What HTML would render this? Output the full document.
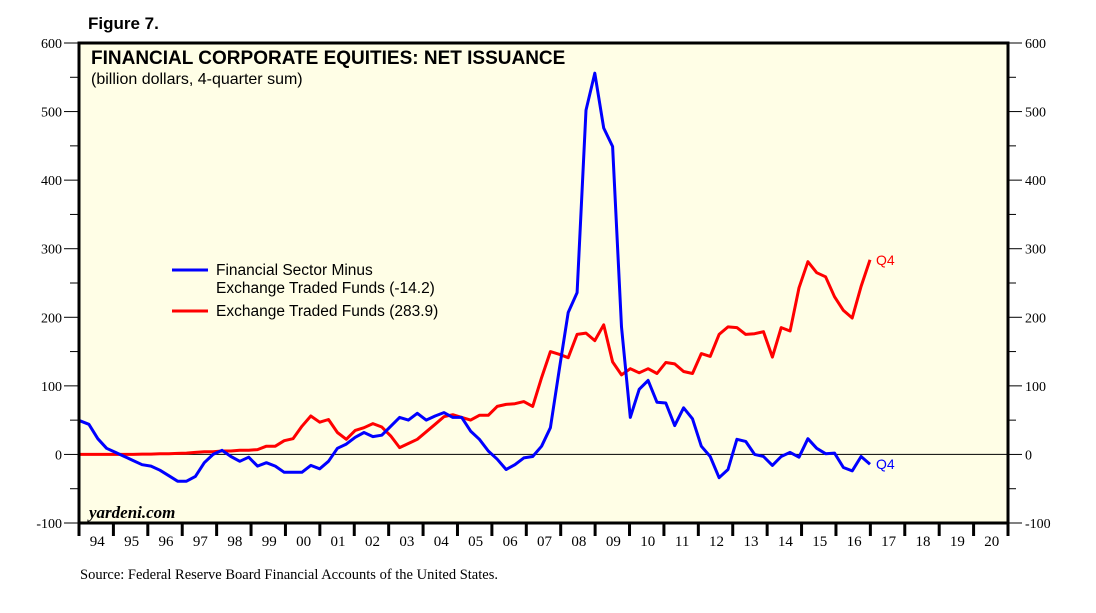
<!DOCTYPE html>
<html><head><meta charset="utf-8"><style>
body{margin:0;background:#fff;}
svg text{font-family:"Liberation Serif",serif;}
</style></head><body>
<svg width="1096" height="608" viewBox="0 0 1096 608" xmlns="http://www.w3.org/2000/svg">
<text x="88" y="29" style="font-family:'Liberation Sans',sans-serif;font-weight:bold;font-size:17px">Figure 7.</text>
<rect x="79" y="43" width="929" height="480" fill="#fffee6"/>
<g id="grid"></g>
<g id="series"></g>
<rect x="79" y="43" width="929" height="480" fill="none" stroke="#000" stroke-width="3"/>
<text x="91" y="64" style="font-family:'Liberation Sans',sans-serif;font-weight:bold;font-size:19px">FINANCIAL CORPORATE EQUITIES: NET ISSUANCE</text>
<text x="91" y="84" style="font-family:'Liberation Sans',sans-serif;font-size:16px">(billion dollars, 4-quarter sum)</text>
<text x="89" y="518" style="font-style:italic;font-size:17px;font-weight:bold">yardeni.com</text>
<g>
<line x1="172" y1="270" x2="208" y2="270" stroke="#0000ff" stroke-width="3"/>
<text x="216" y="275" style="font-family:'Liberation Sans',sans-serif;font-size:15.5px">Financial Sector Minus</text>
<text x="216" y="293" style="font-family:'Liberation Sans',sans-serif;font-size:15.5px">Exchange Traded Funds (-14.2)</text>
<line x1="172" y1="311" x2="208" y2="311" stroke="#ff0000" stroke-width="3"/>
<text x="216" y="316" style="font-family:'Liberation Sans',sans-serif;font-size:15.5px">Exchange Traded Funds (283.9)</text>
</g>
<text x="80" y="579" style="font-size:14.5px">Source: Federal Reserve Board Financial Accounts of the United States.</text>
</svg>
<script>
const yTicks=[-100,0,100,200,300,400,500,600];
const years=["94","95","96","97","98","99","00","01","02","03","04","05","06","07","08","09","10","11","12","13","14","15","16","17","18","19","20"];
const blueVals=[49,44,23,9,3,-3,-9,-15,-17,-23,-31,-39,-39,-32,-12,0,6,-3,-10,-4,-17,-12,-17,-26,-26,-26,-16,-21,-10,9,15,25,32,26,28,41,54,50,60,50,56,61,54,54,34,22,5,-7,-22,-15,-5,-3,12,39,124,207,236,502,556,476,449,186,54,95,108,76,75,42,68,52,12,-3,-34,-22,22,19,0,-3,-16,-3,3,-4,23,9,1,2,-19,-24,-3,-14.2];
const redVals=[0,0,0,0,0,0,0,0.5,0.5,1,1,1.5,2,3,4,4,5,5,6,6,7,12,12,20,23,41,56,47,51,32,22,35,39,45,40,27,10,16,22,33,44,55,58,54,50,57,57,70,73,74,77,70,112,150,146,141,175,177,166,189,135,116,125,119,125,118,134,132,121,118,147,143,175,186,185,175,176,179,142,185,180,243,281,265,259,230,210,199,245,283.9];
const NS='http://www.w3.org/2000/svg';
const L=79,R=1008,T=43,B=523;
const y=v=>B-(v+100)/700*(B-T);
const yr=i=>L+i*(R-L)/years.length;
const qx=i=>80+i*(870-80)/89;
const svg=document.querySelector('svg');
const grid=document.getElementById('grid'), ser=document.getElementById('series');
function mk(tag,attrs,parent){const e=document.createElementNS(NS,tag);for(const k in attrs)e.setAttribute(k,attrs[k]);parent.appendChild(e);return e;}
const z=mk('line',{x1:L,x2:R,y1:y(0),y2:y(0),stroke:'#000','stroke-width':1},grid);


for(let v=-100;v<=600;v+=50){
  const major=v%100===0;
  const a=mk('line',{x1:major?64:70,x2:L,y1:y(v),y2:y(v),stroke:'#000','stroke-width':1},svg);
  
  
  const b=mk('line',{x1:R,x2:major?1022:1016,y1:y(v),y2:y(v),stroke:'#000','stroke-width':1},svg);
  
  
}
yTicks.forEach(v=>{
  const t=mk('text',{x:62,y:y(v)+5,'text-anchor':'end','font-size':'14'},svg);
  t.textContent=v;
  
  
  const t2=mk('text',{x:1025,y:y(v)+5,'font-size':'14'},svg);
  t2.textContent=v;
  
  
});
years.forEach((s,i)=>{
  const tk=mk('line',{x1:yr(i),x2:yr(i),y1:B,y2:B+13,stroke:'#000','stroke-width':3},svg);
  
  
  const t=mk('text',{x:yr(i)+(R-L)/years.length/2+1,y:B+23,'text-anchor':'middle','font-size':'15'},svg);
  t.textContent=s;
  
  
});
const tk=mk('line',{x1:R,x2:R,y1:B,y2:B+13,stroke:'#000','stroke-width':3},svg);


function line(vals,color,name){
  const p=mk('polyline',{points:vals.map((v,i)=>qx(i).toFixed(1)+','+y(v).toFixed(1)).join(' '),fill:'none',stroke:color,'stroke-width':3,'stroke-linejoin':'round'},ser);
  
  
  const t=mk('text',{x:qx(vals.length-1)+6,y:y(vals[vals.length-1])+5,fill:color,'font-size':'14','style':"font-family:'Liberation Sans',sans-serif"},ser);
  t.textContent='Q4';
  
  
}
line(redVals,'#ff0000','etf-line');
line(blueVals,'#0000ff','financial-minus-etf-line');
</script>
</body></html>
